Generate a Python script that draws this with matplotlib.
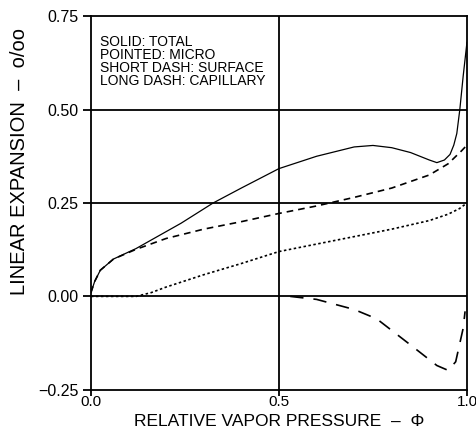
import matplotlib.pyplot as plt

# total (solid)
total_x = [0.0, 0.01, 0.025, 0.06, 0.12, 0.24, 0.325, 0.4, 0.5, 0.6, 0.7, 0.75, 0.8, 0.85, 0.9, 0.92, 0.94, 0.955, 0.965, 0.973, 0.981, 0.99, 1.0]
total_y = [0.01, 0.04, 0.07, 0.10, 0.128, 0.196, 0.25, 0.29, 0.342, 0.375, 0.40, 0.404, 0.398, 0.385, 0.365, 0.358, 0.365, 0.38, 0.405, 0.436, 0.50, 0.59, 0.68]

# micro (pointed)
micro_x = [0.0, 0.12, 0.16, 0.2, 0.3, 0.4, 0.5, 0.6, 0.7, 0.8, 0.9, 0.95, 0.98, 1.0]
micro_y = [0.0, 0.0, 0.01, 0.025, 0.058, 0.088, 0.12, 0.14, 0.16, 0.18, 0.203, 0.22, 0.235, 0.25]

# surface (short dash)
surf_x = [0.0, 0.01, 0.025, 0.06, 0.12, 0.2, 0.3, 0.4, 0.5, 0.6, 0.7, 0.8, 0.9, 0.95, 0.986, 1.0]
surf_y = [0.01, 0.04, 0.07, 0.10, 0.126, 0.155, 0.18, 0.20, 0.222, 0.242, 0.265, 0.29, 0.325, 0.355, 0.39, 0.405]

# capillary (long dash)
cap_x = [0.53, 0.6, 0.7, 0.76, 0.85, 0.92, 0.95, 0.97, 0.98, 0.99, 0.995]
cap_y = [0.0, -0.008, -0.035, -0.06, -0.13, -0.185, -0.198, -0.175, -0.13, -0.085, -0.04]

xticks = [0.0, 0.5, 1.0]
yticks = [-0.25, 0.0, 0.25, 0.5, 0.75]

plt.rcParams['font.family'] = ['Liberation Sans', 'DejaVu Sans']

fig = plt.figure(figsize=(4.76, 4.37), dpi=100)
ax = fig.add_axes([0.191, 0.108, 0.790, 0.855])

for g in [0.0, 0.25, 0.5]:
    ax.axhline(g, color="k", lw=1.3, zorder=1)
ax.axvline(0.5, color="k", lw=1.3, zorder=1)

ax.plot(total_x, total_y, color="k", lw=0.9)
ax.plot(micro_x, micro_y, color="k", lw=1.2, linestyle=(0, (1.5, 1.5)))
ax.plot(surf_x, surf_y, color="k", lw=1.2, linestyle=(0, (4, 3)))
ax.plot(cap_x, cap_y, color="k", lw=1.2, linestyle=(0, (8, 6)))

ax.set_xlim(0, 1)
ax.set_ylim(-0.25, 0.75)
ax.set_xticks(xticks)
ax.set_xticklabels(["%.1f" % v for v in xticks], fontsize=11)
ax.set_yticks(yticks)
ax.set_yticklabels([("%.2f" % v).replace("-", "\u2212") for v in yticks], fontsize=11.5)
ax.tick_params(direction="out", length=6, width=1.3, pad=3)
ax.tick_params(axis="x", length=4, pad=0)
for s in ax.spines.values():
    s.set_linewidth(1.3)

ax.set_xlabel("RELATIVE VAPOR PRESSURE  \u2013  \u03a6", fontsize=12.5, labelpad=3)
ax.set_ylabel("LINEAR EXPANSION  \u2013  o/oo", fontsize=14.5)
ax.yaxis.set_label_coords(-0.165, 0.61)

ax.text(0.025, 0.95, "SOLID: TOTAL\nPOINTED: MICRO\nSHORT DASH: SURFACE\nLONG DASH: CAPILLARY",
        transform=ax.transAxes, fontsize=10, va="top", ha="left", linespacing=0.92)

plt.savefig("out.png", dpi=100)
